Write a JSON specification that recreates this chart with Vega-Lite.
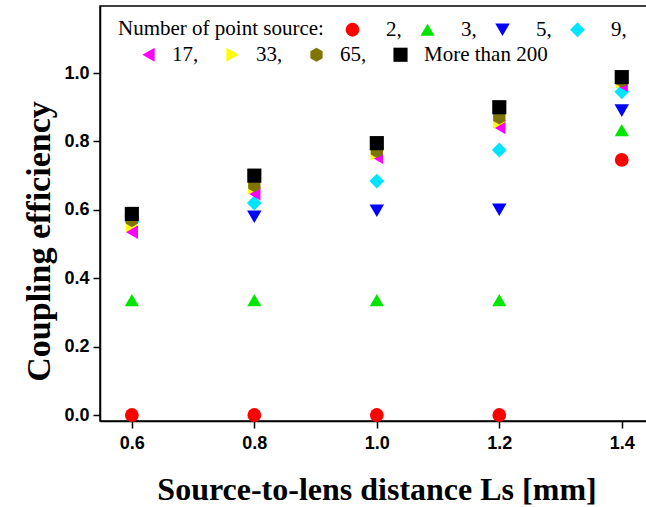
{
  "$schema": "https://vega.github.io/schema/vega-lite/v6.json",
  "autosize": {"type": "none"},
  "padding": {"left": 100, "top": 6, "right": 0, "bottom": 86},
  "width": 553,
  "height": 415,
  "background": "white",
  "config": {
    "view": {"stroke": "black", "strokeWidth": 1.5},
    "axis": {
      "grid": false,
      "domainColor": "black",
      "domainWidth": 1.5,
      "tickColor": "black",
      "tickWidth": 1.5,
      "tickSize": 7,
      "labelFont": "Liberation Sans",
      "labelFontWeight": "bold",
      "labelFontSize": 18,
      "labelColor": "black",
      "titleFont": "Liberation Serif",
      "titleFontWeight": "bold",
      "titleFontSize": 32,
      "titleColor": "black"
    },
    "legend": {
      "labelFont": "Liberation Serif",
      "labelFontSize": 21,
      "labelColor": "black",
      "titleFont": "Liberation Serif",
      "titleFontSize": 21,
      "titleFontWeight": "normal",
      "titleColor": "black",
      "titleLimit": 400,
      "labelLimit": 300,
      "symbolSize": 100,
      "symbolStrokeWidth": 0,
      "padding": 0
    }
  },
  "data": {
    "values": [
      {"n": "2", "ls": 0.6, "ce": 0.0},
      {"n": "2", "ls": 0.8, "ce": 0.0},
      {"n": "2", "ls": 1.0, "ce": 0.0},
      {"n": "2", "ls": 1.2, "ce": 0.0},
      {"n": "2", "ls": 1.4, "ce": 0.746},
      {"n": "3", "ls": 0.6, "ce": 0.336},
      {"n": "3", "ls": 0.8, "ce": 0.336},
      {"n": "3", "ls": 1.0, "ce": 0.336},
      {"n": "3", "ls": 1.2, "ce": 0.336},
      {"n": "3", "ls": 1.4, "ce": 0.833},
      {"n": "5", "ls": 0.6, "ce": 0.565},
      {"n": "5", "ls": 0.8, "ce": 0.58},
      {"n": "5", "ls": 1.0, "ce": 0.597},
      {"n": "5", "ls": 1.2, "ce": 0.6},
      {"n": "5", "ls": 1.4, "ce": 0.89},
      {"n": "9", "ls": 0.6, "ce": 0.565},
      {"n": "9", "ls": 0.8, "ce": 0.62},
      {"n": "9", "ls": 1.0, "ce": 0.684},
      {"n": "9", "ls": 1.2, "ce": 0.775},
      {"n": "9", "ls": 1.4, "ce": 0.945},
      {"n": "17", "ls": 0.6, "ce": 0.535},
      {"n": "17", "ls": 0.8, "ce": 0.648},
      {"n": "17", "ls": 1.0, "ce": 0.755},
      {"n": "17", "ls": 1.2, "ce": 0.842},
      {"n": "17", "ls": 1.4, "ce": 0.965},
      {"n": "33", "ls": 0.6, "ce": 0.555},
      {"n": "33", "ls": 0.8, "ce": 0.665},
      {"n": "33", "ls": 1.0, "ce": 0.765},
      {"n": "33", "ls": 1.2, "ce": 0.857},
      {"n": "33", "ls": 1.4, "ce": 0.975},
      {"n": "65", "ls": 0.6, "ce": 0.57},
      {"n": "65", "ls": 0.8, "ce": 0.672},
      {"n": "65", "ls": 1.0, "ce": 0.772},
      {"n": "65", "ls": 1.2, "ce": 0.87},
      {"n": "65", "ls": 1.4, "ce": 0.978},
      {"n": "More than 200", "ls": 0.6, "ce": 0.588},
      {"n": "More than 200", "ls": 0.8, "ce": 0.70},
      {"n": "More than 200", "ls": 1.0, "ce": 0.795},
      {"n": "More than 200", "ls": 1.2, "ce": 0.9},
      {"n": "More than 200", "ls": 1.4, "ce": 0.988}
    ]
  },
  "encoding": {
    "x": {
      "field": "ls",
      "type": "quantitative",
      "scale": {"domain": [0.548, 1.451], "nice": false, "zero": false},
      "axis": {
        "title": "Source-to-lens distance Ls [mm]",
        "values": [0.6, 0.8, 1.0, 1.2, 1.4],
        "format": ".1f",
        "labelPadding": 6,
        "titleY": 68,
        "titleBaseline": "middle"
      }
    },
    "y": {
      "field": "ce",
      "type": "quantitative",
      "scale": {"domain": [-0.0175, 1.196], "nice": false, "zero": false},
      "axis": {
        "title": "Coupling efficiency",
        "titleFontSize": 34,
        "values": [0.0, 0.2, 0.4, 0.6, 0.8, 1.0],
        "format": ".1f",
        "labelPadding": 4,
        "titleX": -61,
        "titleY": 235,
        "titleBaseline": "middle"
      }
    }
  },
  "layer": [
    {
      "transform": [{"filter": {"field": "n", "oneOf": ["2", "3", "5", "9"]}}],
      "mark": {"type": "point", "filled": true, "opacity": 1},
      "encoding": {
        "color": {
          "field": "n",
          "type": "nominal",
          "scale": {"domain": ["2", "3", "5", "9"], "range": ["#ff0000", "#00e600", "#0000ff", "#00e5ff"]},
          "legend": {
            "orient": "none", "legendX": 18, "legendY": 13, "direction": "horizontal",
            "title": "Number of point source:", "titleOrient": "left", "titlePadding": 18,
            "labelExpr": "datum.label + ','", "labelOffset": 23, "columnPadding": 15
          }
        },
        "shape": {
          "field": "n",
          "type": "nominal",
          "scale": {"domain": ["2", "3", "5", "9"], "range": ["circle", "triangle-up", "triangle-down", "diamond"]},
          "legend": {
            "orient": "none", "legendX": 18, "legendY": 13, "direction": "horizontal",
            "title": "Number of point source:", "titleOrient": "left", "titlePadding": 18,
            "labelExpr": "datum.label + ','", "labelOffset": 23, "columnPadding": 15
          }
        },
        "size": {
          "field": "n",
          "type": "ordinal",
          "scale": {"domain": ["2", "3", "5", "9"], "range": [190, 220, 220, 110]},
          "legend": null
        }
      }
    },
    {
      "transform": [{"filter": {"field": "n", "oneOf": ["17", "33", "65", "More than 200"]}}],
      "mark": {"type": "point", "filled": true, "opacity": 1},
      "encoding": {
        "color": {
          "field": "n",
          "type": "nominal",
          "scale": {"domain": ["17", "33", "65", "More than 200"], "range": ["#ff00ff", "#ffff00", "#7d7500", "#000000"]},
          "legend": {
            "orient": "none", "legendX": 38, "legendY": 38, "direction": "horizontal",
            "title": null,
            "labelExpr": "datum.label == 'More than 200' ? datum.label : datum.label + ','", "labelOffset": 13, "columnPadding": 23
          }
        },
        "shape": {
          "field": "n",
          "type": "nominal",
          "scale": {"domain": ["17", "33", "65", "More than 200"], "range": ["triangle-left", "triangle-right", "M-0.866,-0.5L0,-1L0.866,-0.5L0.866,0.5L0,1L-0.866,0.5Z", "square"]},
          "legend": {
            "orient": "none", "legendX": 38, "legendY": 38, "direction": "horizontal",
            "title": null,
            "labelExpr": "datum.label == 'More than 200' ? datum.label : datum.label + ','", "labelOffset": 13, "columnPadding": 23
          }
        },
        "size": {
          "field": "n",
          "type": "ordinal",
          "scale": {"domain": ["17", "33", "65", "More than 200"], "range": [200, 200, 230, 150]},
          "legend": null
        }
      }
    }
  ],
  "resolve": {
    "scale": {"color": "independent", "shape": "independent", "size": "independent"},
    "legend": {"color": "independent", "shape": "independent"}
  }
}
